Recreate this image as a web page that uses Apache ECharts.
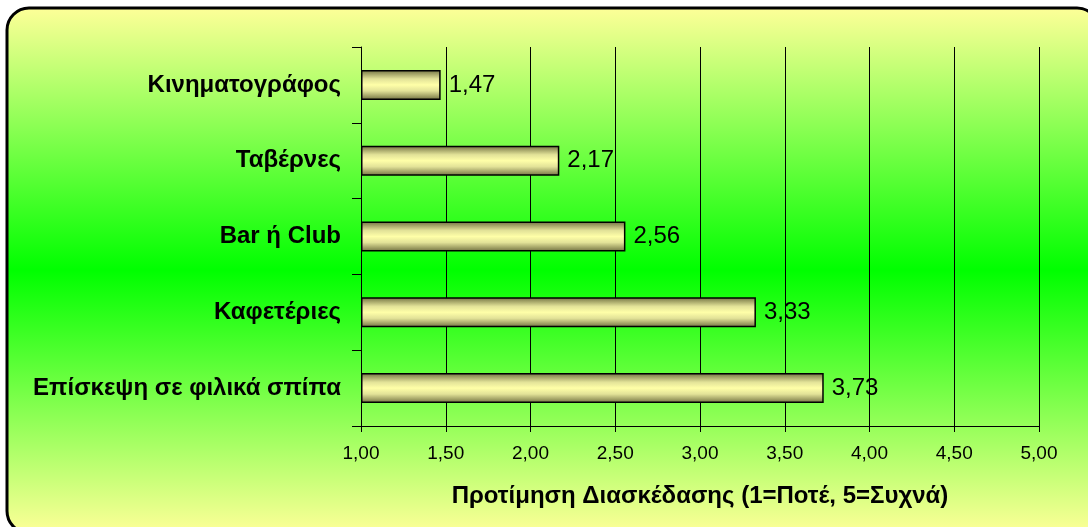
<!DOCTYPE html>
<html>
<head>
<meta charset="utf-8">
<script src="https://cdn.jsdelivr.net/npm/echarts@6/dist/echarts.min.js"></script>
<style>
	html, body { margin: 0; padding: 0; background: #ffffff; }
	#chart { width: 1088px; height: 527px; }
</style>
</head>
<body>
<div id="chart"></div>
<script>
// categories, top to bottom
const categories = ['Κινηματογράφος', 'Ταβέρνες', 'Bar ή Club', 'Καφετέριες', 'Επίσκεψη σε φιλικά σπίπα'];
const values = [1.47, 2.17, 2.56, 3.33, 3.73];
const axisMin = 1;
const axisMax = 5;
const axisStep = 0.5;
const axisTitle = 'Προτίμηση Διασκέδασης (1=Ποτέ, 5=Συχνά)';

const fmt = v => Number(v).toFixed(2).replace('.', ',');

const chart = echarts.init(document.getElementById('chart'));

chart.setOption({
	animation: false,
	textStyle: { fontFamily: 'Liberation Sans, Arial, sans-serif' },
	graphic: [
		{
			type: 'rect',
			z: -100,
			silent: true,
			shape: { x: 7, y: 8, width: 1092, height: 525, r: 22 },
			style: {
				fill: new echarts.graphic.LinearGradient(0, 0, 0, 1, [
					{ offset: 0, color: '#ffff99' },
					{ offset: 0.5, color: '#00ff00' },
					{ offset: 1, color: '#ffff99' }
				]),
				stroke: '#000000',
				lineWidth: 3
			}
		}
	],
	grid: {
		left: 361,
		right: 49,
		top: 47,
		bottom: 101,
		containLabel: false
	},
	xAxis: {
		type: 'value',
		min: axisMin,
		max: axisMax,
		interval: axisStep,
		startValue: axisMin,
		name: axisTitle,
		nameLocation: 'middle',
		nameGap: 58,
		nameTextStyle: {
			fontSize: 24,
			fontWeight: 'bold',
			color: '#000000'
		},
		axisLine: { show: true, lineStyle: { color: '#000000', width: 1 } },
		axisTick: { show: true, length: 6, lineStyle: { color: '#000000' } },
		axisLabel: {
			fontSize: 19,
			color: '#000000',
			margin: 18,
			formatter: fmt
		},
		splitLine: { show: true, lineStyle: { color: '#000000', width: 1 } }
	},
	yAxis: {
		type: 'category',
		inverse: true,
		data: categories,
		axisLine: { show: true, lineStyle: { color: '#000000', width: 1 } },
		axisTick: { show: true, length: 9, lineStyle: { color: '#000000' } },
		axisLabel: {
			fontSize: 24,
			fontWeight: 'bold',
			color: '#000000',
			margin: 20
		}
	},
	series: [
		{
			type: 'bar',
			data: values,
			barWidth: 30,
			itemStyle: {
				color: new echarts.graphic.LinearGradient(0, 0, 0, 1, [
					{ offset: 0, color: '#707040' },
					{ offset: 0.3, color: '#e2e298' },
					{ offset: 0.5, color: '#ffffa8' },
					{ offset: 0.7, color: '#e2e298' },
					{ offset: 1, color: '#707040' }
				]),
				borderColor: '#000000',
				borderWidth: 1.5
			},
			label: {
				show: true,
				position: 'right',
				distance: 8,
				fontSize: 24,
				color: '#000000',
				formatter: p => fmt(p.value)
			}
		}
	]
});
</script>
</body>
</html>
